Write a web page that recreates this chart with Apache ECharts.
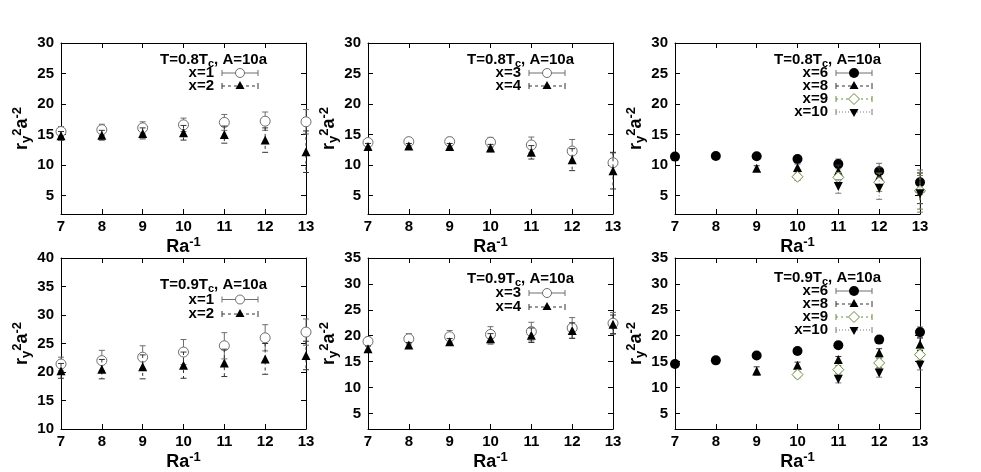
<!DOCTYPE html>
<html>
<head>
<meta charset="utf-8">
<script src="https://cdn.jsdelivr.net/npm/echarts@6/dist/echarts.min.js"></script>
<style>
html, body { margin: 0; padding: 0; background: #fff; }
#main { width: 981px; height: 472px; }
</style>
</head>
<body>
<div id="main"></div>
<script>
// Ra^-1 values on the x axis
var raInv = [7, 8, 9, 10, 11, 12, 13];

// T = 0.8 Tc
var t8x1 = [15.5, 15.8, 16.1, 16.6, 17.0, 17.2, 17.1];
var t8x1Err = [0.8, 0.9, 1.0, 1.1, 1.3, 1.5, 2.0];
var t8x2 = [14.8, 14.9, 15.2, 15.3, 15.0, 14.1, 12.2];
var t8x2Err = [0.7, 0.8, 0.9, 1.2, 1.4, 2.0, 3.4];
var t8x3 = [13.7, 13.85, 13.85, 13.75, 13.3, 12.3, 10.4];
var t8x3Err = [0.6, 0.6, 0.7, 0.8, 1.3, 1.9, 1.6];
var t8x4 = [13.05, 13.15, 13.05, 12.8, 12.1, 10.9, 9.1];
var t8x4Err = [0.5, 0.4, 0.5, 0.6, 1.1, 1.8, 3.0];
var t8x6 = [11.4, 11.5, 11.45, 11.0, 10.2, 9.0, 7.2];
var t8x6Err = [0.3, 0.3, 0.4, 0.5, 0.8, 1.3, 2.0];
var t8x8 = [null, null, 9.5, 9.6, 9.0, 8.1, 6.2];
var t8x8Err = [null, null, 0.4, 0.6, 1.0, 1.5, 2.5];
var t8x9 = [null, null, null, 8.1, 8.0, 7.2, 5.8];
var t8x9Err = [null, null, null, 0.6, 0.8, 1.5, 3.0];
var t8x10 = [null, null, null, null, 6.5, 6.2, 5.3];
var t8x10Err = [null, null, null, null, 1.1, 1.8, 3.0];

// T = 0.9 Tc
var t9x1 = [21.4, 22.0, 22.6, 23.5, 24.6, 26.0, 27.0];
var t9x1Err = [1.2, 1.8, 2.0, 2.2, 2.3, 2.3, 2.3];
var t9x2 = [20.2, 20.5, 20.9, 21.2, 21.6, 22.3, 22.9];
var t9x2Err = [1.3, 1.7, 2.1, 2.3, 2.4, 2.7, 2.5];
var t9x3 = [18.9, 19.4, 19.8, 20.25, 20.8, 21.5, 22.4];
var t9x3Err = [0.8, 1.0, 1.2, 1.5, 1.8, 2.0, 2.1];
var t9x4 = [17.5, 18.2, 18.85, 19.4, 20.1, 21.0, 22.2];
var t9x4Err = [0.5, 0.5, 0.6, 1.0, 1.4, 1.5, 1.8];
var t9x6 = [14.55, 15.25, 16.2, 17.05, 18.15, 19.25, 20.7];
var t9x6Err = [0.3, 0.3, 0.4, 0.5, 0.6, 0.7, 1.0];
var t9x8 = [null, null, 13.2, 14.3, 15.4, 16.7, 18.35];
var t9x8Err = [null, null, 0.8, 0.6, 0.6, 0.8, 1.2];
var t9x9 = [null, null, null, 12.5, 13.45, 14.75, 16.35];
var t9x9Err = [null, null, null, 0.6, 0.8, 0.9, 1.1];
var t9x10 = [null, null, null, null, 11.6, 12.8, 14.3];
var t9x10Err = [null, null, null, null, 0.7, 0.8, 0.9];

// tick labels
var yTicks30 = [5, 10, 15, 20, 25, 30];
var yTicks40 = [10, 15, 20, 25, 30, 35, 40];
var yTicks35 = [5, 10, 15, 20, 25, 30, 35];

var F = 'Liberation Sans';
var GRAY = '#6e6e6e', BLACK = '#000', OLIVE = '#6b8b3b';

function sty(name, val, err, sym, color, bar, dash) {
	return {name: name, val: val, err: err, sym: sym, color: color, bar: bar, dash: dash};
}

var panels = [
	{left: 61, top: 43, ymin: 2, ymax: 30, ticks: yTicks30, temp: '0.8', keyTop: 17, keyStep: 13,
	 list: [sty('x=1', t8x1, t8x1Err, 'circle', GRAY, GRAY, 'solid'),
	        sty('x=2', t8x2, t8x2Err, 'triangle', BLACK, '#333', [3, 3])]},
	{left: 368, top: 43, ymin: 2, ymax: 30, ticks: yTicks30, temp: '0.8', keyTop: 17, keyStep: 13,
	 list: [sty('x=3', t8x3, t8x3Err, 'circle', GRAY, GRAY, 'solid'),
	        sty('x=4', t8x4, t8x4Err, 'triangle', BLACK, '#333', [3, 3])]},
	{left: 675, top: 43, ymin: 2, ymax: 30, ticks: yTicks30, temp: '0.8', keyTop: 17, keyStep: 13,
	 list: [sty('x=6', t8x6, t8x6Err, 'dot', BLACK, GRAY, 'solid'),
	        sty('x=8', t8x8, t8x8Err, 'triangle', BLACK, '#333', [3, 3]),
	        sty('x=9', t8x9, t8x9Err, 'diamond', OLIVE, OLIVE, [2, 3]),
	        sty('x=10', t8x10, t8x10Err, 'down', BLACK, '#777', [1, 2])]},
	{left: 61, top: 258, ymin: 10, ymax: 40, ticks: yTicks40, temp: '0.9', keyTop: 27, keyStep: 14.5,
	 list: [sty('x=1', t9x1, t9x1Err, 'circle', GRAY, GRAY, 'solid'),
	        sty('x=2', t9x2, t9x2Err, 'triangle', BLACK, '#333', [3, 3])]},
	{left: 368, top: 258, ymin: 2, ymax: 35, ticks: yTicks35, temp: '0.9', keyTop: 21, keyStep: 14,
	 list: [sty('x=3', t9x3, t9x3Err, 'circle', GRAY, GRAY, 'solid'),
	        sty('x=4', t9x4, t9x4Err, 'triangle', BLACK, '#333', [3, 3])]},
	{left: 675, top: 258, ymin: 2, ymax: 35, ticks: yTicks35, temp: '0.9', keyTop: 20, keyStep: 13,
	 list: [sty('x=6', t9x6, t9x6Err, 'dot', BLACK, GRAY, 'solid'),
	        sty('x=8', t9x8, t9x8Err, 'triangle', BLACK, '#333', [3, 3]),
	        sty('x=9', t9x9, t9x9Err, 'diamond', OLIVE, OLIVE, [2, 3]),
	        sty('x=10', t9x10, t9x10Err, 'down', BLACK, '#777', [1, 2])]}
];

var W = 245, H = 171;

var rich = {
	m: {fontSize: 15, fontWeight: 'bold', fontFamily: F, color: '#000', lineHeight: 18},
	sub: {fontSize: 11, fontWeight: 'bold', fontFamily: F, color: '#000', verticalAlign: 'bottom', lineHeight: 7},
	n: {fontSize: 18, fontWeight: 'bold', fontFamily: F, color: '#000', lineHeight: 22},
	nsub: {fontSize: 13, fontWeight: 'bold', fontFamily: F, color: '#000', verticalAlign: 'bottom', lineHeight: 8},
	nsup: {fontSize: 13, fontWeight: 'bold', fontFamily: F, color: '#000', verticalAlign: 'top', lineHeight: 8}
};

function symOpt(s) {
	if (s.sym == 'circle') return {symbol: 'circle', symbolSize: 10, itemStyle: {color: '#fff', borderColor: s.color, borderWidth: 1, opacity: 1}};
	if (s.sym == 'dot') return {symbol: 'circle', symbolSize: 10, itemStyle: {color: s.color, opacity: 1}};
	if (s.sym == 'triangle') return {symbol: 'triangle', symbolSize: 9, itemStyle: {color: s.color, opacity: 1}};
	if (s.sym == 'down') return {symbol: 'triangle', symbolSize: 9, symbolRotate: 180, itemStyle: {color: s.color, opacity: 1}};
	return {symbol: 'diamond', symbolSize: 11, itemStyle: {color: '#fff', borderColor: s.color, borderWidth: 1, opacity: 1}};
}

function errBar(color, dash) {
	return function (params, api) {
		var x = api.value(0), y = api.value(1), e = api.value(2);
		var hi = api.coord([x, y + e]);
		var lo = api.coord([x, y - e]);
		var cap = {stroke: color, lineWidth: 1};
		return {type: 'group', children: [
			{type: 'line', shape: {x1: hi[0], y1: hi[1], x2: lo[0], y2: lo[1]}, style: {stroke: color, lineWidth: 1, lineDash: dash}},
			{type: 'line', shape: {x1: hi[0] - 3, y1: hi[1], x2: hi[0] + 3, y2: hi[1]}, style: cap},
			{type: 'line', shape: {x1: lo[0] - 3, y1: lo[1], x2: lo[0] + 3, y2: lo[1]}, style: cap}
		]};
	};
}

function keyMarker(s, cx, cy) {
	if (s.sym == 'circle') return {type: 'circle', shape: {cx: cx, cy: cy, r: 4.5}, style: {fill: '#fff', stroke: s.color}};
	if (s.sym == 'dot') return {type: 'circle', shape: {cx: cx, cy: cy, r: 5}, style: {fill: s.color}};
	if (s.sym == 'triangle') return {type: 'polygon', shape: {points: [[cx, cy - 5], [cx + 4.5, cy + 3], [cx - 4.5, cy + 3]]}, style: {fill: s.color}};
	if (s.sym == 'down') return {type: 'polygon', shape: {points: [[cx, cy + 5], [cx + 4.5, cy - 3], [cx - 4.5, cy - 3]]}, style: {fill: s.color}};
	return {type: 'polygon', shape: {points: [[cx, cy - 5.5], [cx + 5.5, cy], [cx, cy + 5.5], [cx - 5.5, cy]]}, style: {fill: '#fff', stroke: s.color}};
}

var grids = [], xAxes = [], yAxes = [], series = [], graphics = [];
var tickLabel = {fontSize: 15, fontWeight: 'bold', fontFamily: F, color: '#000'};

panels.forEach(function (p, i) {
	grids.push({left: p.left, top: p.top, width: W, height: H});
	xAxes.push({
		type: 'value', gridIndex: i, min: 7, max: 13, interval: 1, position: 'bottom',
		name: '{n|Ra}{nsup|-1}', nameLocation: 'middle', nameGap: 22,
		nameTextStyle: {rich: rich},
		axisLine: {lineStyle: {color: '#000'}},
		axisTick: {inside: true, length: 5, lineStyle: {color: '#000'}},
		axisLabel: Object.assign({margin: 5}, tickLabel),
		splitLine: {show: false}
	});
	xAxes.push({
		type: 'value', gridIndex: i, min: 7, max: 13, interval: 1, position: 'top',
		axisLine: {lineStyle: {color: '#000'}},
		axisTick: {inside: true, length: 5, lineStyle: {color: '#000'}},
		axisLabel: {show: false}, splitLine: {show: false}
	});
	yAxes.push({
		type: 'value', gridIndex: i, min: p.ymin, max: p.ymax, position: 'left',
		name: '{n|r}{nsub|y}{nsup|2}{n|a}{nsup|-2}', nameLocation: 'middle', nameGap: 27,
		nameTextStyle: {rich: rich},
		axisLine: {show: true, lineStyle: {color: '#000'}},
		axisTick: {show: true, inside: true, length: 5, customValues: p.ticks, lineStyle: {color: '#000'}},
		axisLabel: Object.assign({margin: 7, customValues: p.ticks}, tickLabel),
		splitLine: {show: false}
	});
	yAxes.push({
		type: 'value', gridIndex: i, min: p.ymin, max: p.ymax, position: 'right',
		axisLine: {show: true, lineStyle: {color: '#000'}},
		axisTick: {show: true, inside: true, length: 5, customValues: p.ticks, lineStyle: {color: '#000'}},
		axisLabel: {show: false}, splitLine: {show: false}
	});

	p.list.forEach(function (s, k) {
		var pts = [], bars = [];
		raInv.forEach(function (x, j) {
			if (s.val[j] == null) return;
			pts.push([x, s.val[j]]);
			bars.push([x, s.val[j], s.err[j]]);
		});
		series.push({
			type: 'custom', name: s.name, xAxisIndex: 2 * i, yAxisIndex: 2 * i,
			renderItem: errBar(s.bar, s.dash), data: bars, z: 2 + k * 2, clip: false, silent: true
		});
		series.push(Object.assign({
			type: 'scatter', name: s.name, xAxisIndex: 2 * i, yAxisIndex: 2 * i,
			data: pts, z: 3 + k * 2, clip: false, silent: true
		}, symOpt(s)));

		// key entry, gnuplot style
		var ky = p.top + p.keyTop + (k + 1) * p.keyStep;
		var x0 = p.left + 161, x1 = p.left + 197, xm = p.left + 179;
		graphics.push({type: 'text', x: p.left + 153, y: ky, style: {text: '{m|' + s.name + '}', rich: rich, align: 'right', verticalAlign: 'middle'}});
		graphics.push({type: 'line', shape: {x1: x0, y1: ky, x2: x1, y2: ky}, style: {stroke: s.bar, lineWidth: 1, lineDash: s.dash}});
		graphics.push({type: 'line', shape: {x1: x0, y1: ky - 3, x2: x0, y2: ky + 3}, style: {stroke: s.bar, lineWidth: 1}});
		graphics.push({type: 'line', shape: {x1: x1, y1: ky - 3, x2: x1, y2: ky + 3}, style: {stroke: s.bar, lineWidth: 1}});
		graphics.push(keyMarker(s, xm, ky));
	});
	graphics.push({type: 'text', x: p.left + 206, y: p.top + p.keyTop,
		style: {text: '{m|T=' + p.temp + 'T}{sub|c}{m|, A=10a}', rich: rich, align: 'right', verticalAlign: 'middle'}});
});

var chart = echarts.init(document.getElementById('main'));
chart.setOption({
	animation: false,
	backgroundColor: '#fff',
	grid: grids,
	xAxis: xAxes,
	yAxis: yAxes,
	series: series,
	graphic: graphics
});
</script>
</body>
</html>
